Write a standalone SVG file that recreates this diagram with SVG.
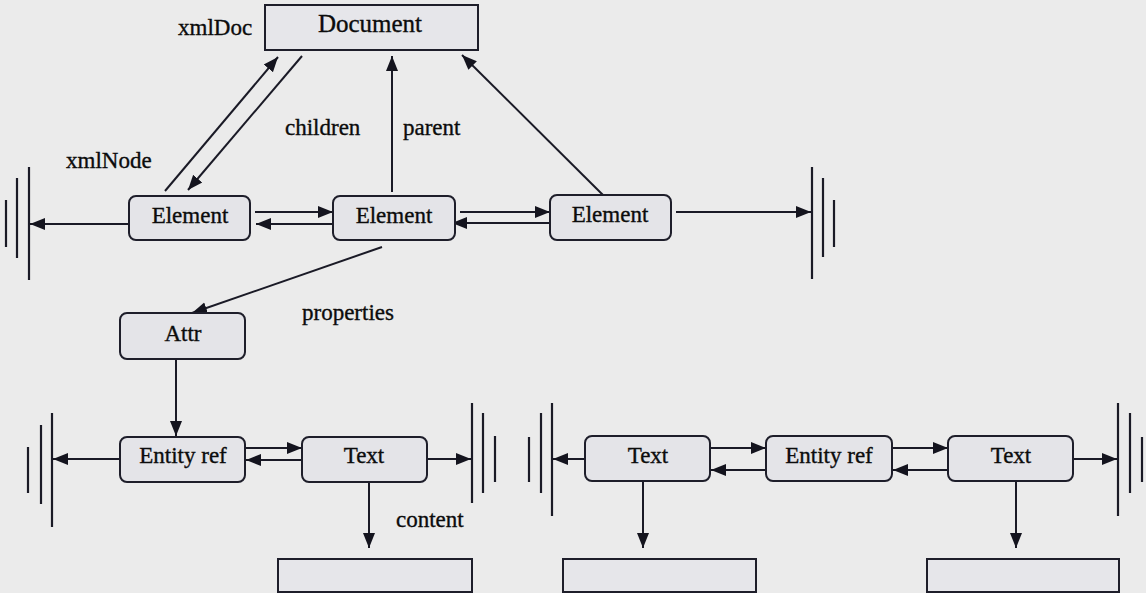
<svg xmlns="http://www.w3.org/2000/svg" width="1146" height="593" viewBox="0 0 1146 593">
<defs>
<marker id="ah" markerUnits="userSpaceOnUse" markerWidth="16" markerHeight="14" viewBox="0 0 16 14" refX="15" refY="7" orient="auto">
<path d="M0,1 L15,7 L0,13 z" fill="#14141e"/>
</marker>
<style>
.bg{fill:#ebebeb}
.node{fill:#e4e4e8;stroke:#1e1e2a;stroke-width:2}
.box{fill:#e6e6ea;stroke:#1e1e2a;stroke-width:2}
.t{font-family:"Liberation Serif","Times New Roman",serif;font-size:23px;fill:#0c0c0c;stroke:#0c0c0c;stroke-width:0.35}
.c{text-anchor:middle}
.arr{stroke:#1a1a26;stroke-width:2;fill:none;marker-end:url(#ah)}
.gnd{stroke:#1a1a26;stroke-width:2.2}
</style>
</defs>
<rect class="bg" x="0" y="0" width="1146" height="593"/>

<g id="connectors">
<line class="arr" x1="129" y1="224" x2="30" y2="224"/>
<line class="arr" x1="255" y1="212" x2="333" y2="212"/>
<line class="arr" x1="333" y1="224" x2="256" y2="224"/>
<line class="arr" x1="460" y1="212" x2="550" y2="212"/>
<line class="arr" x1="550" y1="223" x2="452" y2="223"/>
<line class="arr" x1="676" y1="212" x2="811" y2="212"/>
<line class="arr" x1="165" y1="191" x2="278" y2="57"/>
<line class="arr" x1="302" y1="56" x2="188" y2="190"/>
<line class="arr" x1="392" y1="192" x2="392" y2="56"/>
<line class="arr" x1="608" y1="200" x2="462" y2="55"/>
<line class="arr" x1="382" y1="247" x2="192" y2="313"/>
<line class="arr" x1="176" y1="359" x2="176" y2="436"/>
<line class="arr" x1="120" y1="459" x2="53" y2="459"/>
<line class="arr" x1="245" y1="448" x2="302" y2="448"/>
<line class="arr" x1="302" y1="460" x2="246" y2="460"/>
<line class="arr" x1="427" y1="459" x2="471" y2="459"/>
<line class="arr" x1="369" y1="482" x2="369" y2="548"/>
<line class="arr" x1="585" y1="459" x2="553" y2="459"/>
<line class="arr" x1="710" y1="448" x2="766" y2="448"/>
<line class="arr" x1="766" y1="470" x2="711" y2="470"/>
<line class="arr" x1="892" y1="448" x2="948" y2="448"/>
<line class="arr" x1="948" y1="470" x2="893" y2="470"/>
<line class="arr" x1="1073" y1="459" x2="1117" y2="459"/>
<line class="arr" x1="643" y1="481" x2="643" y2="548"/>
<line class="arr" x1="1016" y1="481" x2="1016" y2="548"/>
</g>

<g id="ground1">
<line class="gnd" x1="6" y1="200" x2="6" y2="247"/>
<line class="gnd" x1="17" y1="178" x2="17" y2="258"/>
<line class="gnd" x1="29" y1="167" x2="29" y2="280"/>
</g>
<g id="ground2">
<line class="gnd" x1="812" y1="167" x2="812" y2="279"/>
<line class="gnd" x1="823" y1="178" x2="823" y2="257"/>
<line class="gnd" x1="834" y1="200" x2="834" y2="247"/>
</g>
<g id="ground3">
<line class="gnd" x1="28" y1="447" x2="28" y2="493"/>
<line class="gnd" x1="41" y1="425" x2="41" y2="504"/>
<line class="gnd" x1="52" y1="413" x2="52" y2="527"/>
</g>
<g id="ground4">
<line class="gnd" x1="472" y1="403" x2="472" y2="503"/>
<line class="gnd" x1="483" y1="413" x2="483" y2="493"/>
<line class="gnd" x1="495" y1="436" x2="495" y2="482"/>
</g>
<g id="ground5">
<line class="gnd" x1="529" y1="437" x2="529" y2="482"/>
<line class="gnd" x1="541" y1="413" x2="541" y2="493"/>
<line class="gnd" x1="552" y1="403" x2="552" y2="516"/>
</g>
<g id="ground6">
<line class="gnd" x1="1118" y1="403" x2="1118" y2="516"/>
<line class="gnd" x1="1130" y1="413" x2="1130" y2="493"/>
<line class="gnd" x1="1142" y1="437" x2="1142" y2="482"/>
</g>

<g id="document">
<rect class="box" x="265" y="5" width="213" height="45"/>
<text class="t c" x="370" y="32" style="font-size:25px">Document</text>
</g>
<g id="element1">
<rect class="node" x="129" y="196" width="121" height="44" rx="7"/>
<text class="t c" x="190" y="223">Element</text>
</g>
<g id="element2">
<rect class="node" x="333" y="196" width="122" height="44" rx="7"/>
<text class="t c" x="394" y="223">Element</text>
</g>
<g id="element3">
<rect class="node" x="550" y="195" width="121" height="45" rx="7"/>
<text class="t c" x="610" y="222">Element</text>
</g>
<g id="attr">
<rect class="node" x="120" y="313" width="125" height="46" rx="7"/>
<text class="t c" x="183" y="341">Attr</text>
</g>
<g id="entityref1">
<rect class="node" x="120" y="437" width="125" height="45" rx="7"/>
<text class="t c" x="183" y="463">Entity ref</text>
</g>
<g id="text1">
<rect class="node" x="302" y="437" width="125" height="45" rx="7"/>
<text class="t c" x="364" y="463">Text</text>
</g>
<g id="text2">
<rect class="node" x="585" y="436" width="125" height="45" rx="7"/>
<text class="t c" x="648" y="463">Text</text>
</g>
<g id="entityref2">
<rect class="node" x="766" y="436" width="126" height="45" rx="7"/>
<text class="t c" x="829" y="463">Entity ref</text>
</g>
<g id="text3">
<rect class="node" x="948" y="436" width="125" height="45" rx="7"/>
<text class="t c" x="1011" y="463">Text</text>
</g>
<g id="content1">
<rect class="box" x="278" y="559" width="194" height="33"/>
</g>
<g id="content2">
<rect class="box" x="563" y="559" width="193" height="33"/>
</g>
<g id="content3">
<rect class="box" x="927" y="559" width="192" height="33"/>
</g>

<g id="labels">
<text class="t" x="178" y="35">xmlDoc</text>
<text class="t" x="285" y="135">children</text>
<text class="t" x="403" y="135">parent</text>
<text class="t" x="66" y="168">xmlNode</text>
<text class="t" x="302" y="320">properties</text>
<text class="t" x="396" y="527">content</text>
</g>
</svg>
